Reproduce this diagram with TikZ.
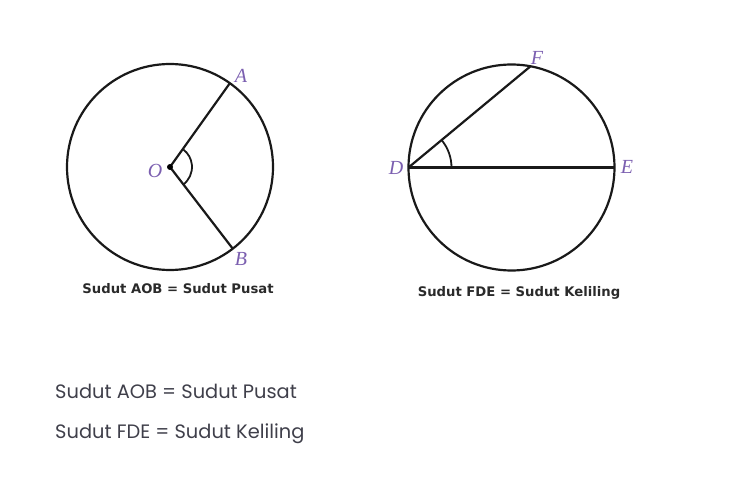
\documentclass[tikz,border=0pt]{standalone}
\usepackage{fontspec}
\setmainfont{Liberation Serif}
\newfontfamily\capfont{DejaVu Sans}
\newfontfamily\bodyfont{Poppins}
\definecolor{lbl}{HTML}{7B5FB0}
\definecolor{bodytxt}{HTML}{3F3F4A}
\definecolor{captxt}{HTML}{2A2A2A}
\begin{document}
\begin{tikzpicture}[x=1pt,y=-1pt,
  geo/.style={line width=2.2pt,draw=black!90},
  ptlabel/.style={text=lbl,font=\fontsize{20}{20}\selectfont\itshape,inner sep=0pt},
  caption/.style={text=captxt,font=\capfont\bfseries\fontsize{13.2}{15}\selectfont,inner sep=0pt},
  bodyline/.style={text=bodytxt,font=\bodyfont\fontsize{19.4}{21}\selectfont,inner sep=0pt,anchor=base west}]
\useasboundingbox (0,0) rectangle (750,500);
% left circle
\coordinate (C1) at (170,167);
\draw[geo] (C1) circle[radius=103];
\coordinate (O) at (C1);
\path (C1) ++(60,-84) coordinate (A);
\path (C1) ++(63,82) coordinate (B);
\draw[geo] (A) -- (O) -- (B);
\fill (O) circle[radius=3];
\draw[geo,line width=1.8pt] (O) ++(54.5:22) arc[start angle=54.5,end angle=-52.5,radius=22];
\node[ptlabel] (lA) at (241,76) {A};
\node[ptlabel] (lB) at (241,259) {B};
\node[ptlabel] (lO) at (155,171) {O};
\node[caption] (cap1) at (178,289) {Sudut AOB = Sudut Pusat};
% right circle
\coordinate (C2) at (511.5,167.5);
\draw[geo] (C2) circle[radius=103];
\path (C2) ++(-103,0) coordinate (D);
\path (C2) ++(103,0) coordinate (E);
\path (C2) ++(19,-101.2) coordinate (F);
\draw[geo] (D) -- (E);
\draw[geo] (D) -- (F);
\draw[geo,line width=1.8pt] (D) ++(43,0) arc[start angle=0,end angle=-40,radius=43];
\node[ptlabel] (lD) at (396,168) {D};
\node[ptlabel] (lE) at (627,167) {E};
\node[ptlabel] (lF) at (537,58) {F};
\node[caption] (cap2) at (519,293) {Sudut FDE = Sudut Keliling};
% body text
\node[bodyline] (t1) at (55,398) {Sudut AOB = Sudut Pusat};
\node[bodyline] (t2) at (55,438) {Sudut FDE = Sudut Keliling};
\end{tikzpicture}
\end{document}
